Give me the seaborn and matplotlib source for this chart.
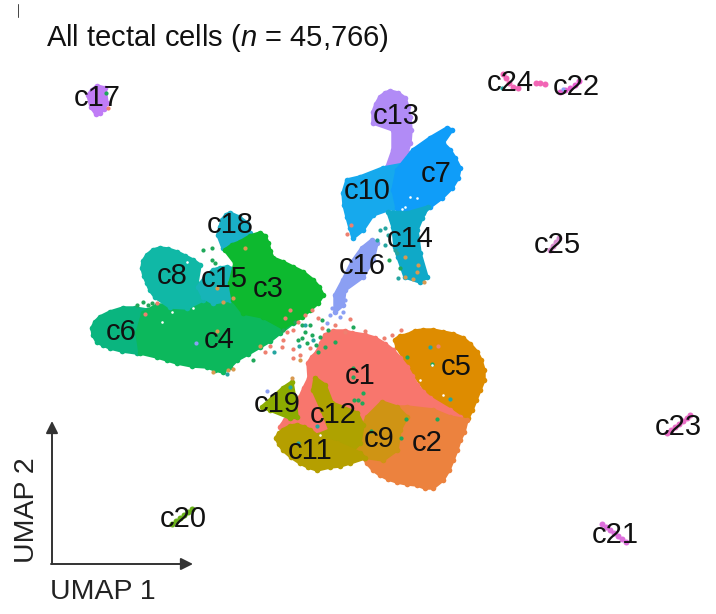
import matplotlib
matplotlib.use("Agg")
import numpy as np
import matplotlib.pyplot as plt
import seaborn as sns

# outlines of the big clouds
c5_x = [395, 400, 407, 415, 423, 433, 443, 453, 463, 470, 477, 481, 484, 484, 480, 476, 472, 468, 463, 450, 430, 413, 397]
c5_y = [340, 336, 335, 331, 330, 330, 332, 334, 338, 344, 352, 360, 370, 380, 390, 400, 410, 418, 425, 417, 397, 373, 347]

c1_x = [308, 312, 317, 321, 325, 333, 345, 352, 365, 375, 385, 393, 400, 407, 412, 417, 423, 430, 450, 460, 430, 407, 383, 363, 320, 300, 280, 285, 290, 300, 304, 309]
c1_y = [363, 357, 352, 343, 335, 331, 331, 333, 335, 338, 344, 350, 358, 367, 376, 385, 392, 398, 410, 417, 413, 417, 420, 443, 440, 425, 427, 420, 413, 397, 388, 378]

c2_x = [383, 407, 433, 450, 467, 464, 460, 457, 453, 449, 443, 433, 425, 417, 407, 397, 388, 380, 373, 367, 360, 363]
c2_y = [407, 407, 410, 417, 420, 432, 440, 450, 460, 470, 480, 488, 488, 485, 484, 482, 479, 475, 470, 463, 453, 437]

c9_x = [382, 397, 407, 400, 397, 383, 363, 357, 360, 367]
c9_y = [402, 407, 417, 430, 450, 460, 457, 450, 433, 417]

c12_x = [315, 325, 332, 357, 363, 360, 350, 337, 318, 330, 322, 313]
c12_y = [378, 385, 403, 413, 425, 443, 453, 443, 435, 430, 410, 390]

c11_x = [276, 279, 283, 290, 297, 304, 310, 320, 337, 360, 365, 350, 340, 330, 317, 308, 300, 291, 283, 279]
c11_y = [438, 433, 430, 426, 425, 427, 430, 438, 443, 453, 458, 463, 466, 467, 470, 467, 463, 457, 450, 444]

c19_x = [262, 272, 283, 292, 295, 297, 290, 270]
c19_y = [407, 398, 388, 382, 400, 417, 418, 410]

c6_x = [92, 95, 100, 110, 123, 135, 147, 163, 153, 137, 122, 110, 103, 97, 93]
c6_y = [328, 322, 317, 312, 308, 308, 310, 323, 350, 353, 351, 348, 345, 342, 335]

c4_x = [143, 157, 180, 213, 237, 267, 293, 280, 270, 260, 248, 237, 230, 223, 215, 207, 192, 177, 167, 157, 140, 137]
c4_y = [313, 305, 305, 300, 293, 317, 323, 333, 341, 347, 354, 360, 367, 372, 370, 367, 366, 363, 360, 357, 353, 333]

c8_x = [142, 143, 147, 153, 160, 168, 177, 185, 193, 200, 197, 203, 187, 170, 155, 150, 147, 144]
c8_y = [268, 261, 255, 250, 248, 249, 252, 256, 260, 265, 283, 300, 308, 307, 297, 290, 283, 276]

c15_x = [198, 205, 213, 220, 227, 237, 237, 230, 213, 203]
c15_y = [287, 277, 270, 268, 267, 270, 290, 300, 303, 297]

c18_x = [218, 220, 222, 226, 230, 239, 247, 250, 237, 223]
c18_y = [235, 227, 220, 215, 213, 217, 223, 233, 242, 248]

c3_x = [225, 232, 240, 250, 260, 265, 268, 270, 273, 283, 293, 303, 313, 319, 323, 318, 310, 302, 293, 283, 263, 243, 233, 230, 235]
c3_y = [250, 245, 242, 236, 233, 236, 243, 251, 258, 262, 267, 272, 280, 287, 295, 303, 310, 317, 322, 328, 317, 313, 300, 283, 263]

c13_x = [373, 376, 380, 385, 390, 398, 405, 408, 410, 411, 410, 407, 402, 395, 387, 393, 393, 373]
c13_y = [112, 104, 97, 93, 91, 93, 98, 107, 117, 130, 143, 152, 160, 165, 167, 150, 130, 123]

c10_x = [347, 360, 383, 410, 417, 393, 373, 363, 353, 350, 347, 344, 343]
c10_y = [180, 177, 168, 163, 213, 208, 215, 230, 238, 228, 217, 205, 193]

c7_x = [397, 413, 430, 447, 452, 443, 450, 455, 460, 458, 452, 442, 430, 423, 397, 393]
c7_y = [170, 150, 138, 128, 130, 143, 150, 158, 168, 178, 188, 198, 207, 213, 208, 190]

c14_x = [388, 407, 428, 422, 417, 420, 427, 420, 405, 398, 395, 393]
c14_y = [212, 213, 207, 218, 230, 253, 277, 282, 277, 257, 247, 227]

c16_x = [372, 377, 373, 363, 345, 343, 335, 335, 343, 352, 362]
c16_y = [240, 243, 260, 277, 290, 305, 312, 295, 280, 262, 248]

c17_x = [88, 92, 97, 105, 107, 104, 100, 96, 91]
c17_y = [95, 90, 86, 88, 103, 109, 113, 114, 107]

# thin clusters
c20_x = [172, 176, 180, 184, 188, 192]
c20_y = [524, 521, 518, 515, 512, 509]
c21_x = [602, 606, 610, 614, 618, 622, 626]
c21_y = [524, 527, 530, 533, 536, 539, 542]
c22_x = [560, 565, 570, 575, 579]
c22_y = [92, 90, 88, 85, 81]
c23_x = [667, 671, 675, 679, 683, 687, 690]
c23_y = [433, 430, 427, 424, 421, 418, 415]
c24_x = [503, 506, 509, 513, 518, 536, 540, 545]
c24_y = [74, 78, 83, 87, 88, 83, 83, 84]
c25_x = [550, 553, 556, 559]
c25_y = [250, 246, 242, 238]

colors = {
    "c1": "#F8766D", "c2": "#EC823E", "c3": "#0DB92F", "c4": "#0CB85C", "c5": "#DE8C00",
    "c6": "#0AB57F", "c7": "#0F9DF9", "c8": "#10B8A6", "c9": "#CF9414", "c10": "#16A9ED",
    "c11": "#B59F00", "c12": "#AEA200", "c13": "#B18BF6", "c14": "#0FA9C8", "c15": "#17B4B8",
    "c16": "#8B9FF3", "c17": "#C07CF6", "c18": "#1AB0C8", "c19": "#8CAC00", "c20": "#6BB11B",
    "c21": "#DD70DC", "c22": "#E85FD0", "c23": "#E86CC5", "c24": "#F266B5", "c25": "#D88CCF",
}

clouds = [
    ("c5", c5_x, c5_y), ("c1", c1_x, c1_y), ("c2", c2_x, c2_y), ("c9", c9_x, c9_y),
    ("c12", c12_x, c12_y), ("c11", c11_x, c11_y), ("c19", c19_x, c19_y), ("c6", c6_x, c6_y),
    ("c4", c4_x, c4_y), ("c8", c8_x, c8_y), ("c15", c15_x, c15_y), ("c18", c18_x, c18_y),
    ("c3", c3_x, c3_y), ("c13", c13_x, c13_y), ("c10", c10_x, c10_y), ("c7", c7_x, c7_y),
    ("c14", c14_x, c14_y), ("c16", c16_x, c16_y), ("c17", c17_x, c17_y),
]
stripes = [
    ("c20", c20_x, c20_y), ("c21", c21_x, c21_y), ("c22", c22_x, c22_y),
    ("c23", c23_x, c23_y), ("c24", c24_x, c24_y), ("c25", c25_x, c25_y),
]

# stray cells
green_x = [203, 212, 212, 215, 137, 143, 148, 152, 253, 302, 318, 325, 310, 302, 353, 320, 307,
           353, 353, 363, 354, 362, 358, 432, 407, 406, 437, 401, 371, 389, 400, 106, 283, 295,
           312, 328, 335, 305, 298, 316, 322]
green_y = [250, 248, 260, 263, 305, 302, 305, 303, 360, 338, 352, 347, 325, 325, 327, 337, 343,
           368, 377, 393, 400, 403, 400, 364, 357, 419, 419, 438, 431, 260, 268, 93, 330, 322,
           335, 330, 342, 332, 340, 345, 320]
salmon_x = [157, 145, 283, 282, 293, 293, 300, 265, 350, 365, 345, 293, 287, 438, 392, 384, 401,
            351, 347, 108, 305, 318, 270, 285, 298, 312, 310, 335, 322, 290]
salmon_y = [303, 314, 340, 347, 349, 358, 355, 352, 319, 331, 332, 330, 332, 346, 335, 338, 330,
            225, 234, 108, 315, 318, 346, 318, 322, 310, 348, 325, 328, 310]
orange_x = [245, 217, 233, 223, 217, 213, 233, 228, 260, 405, 413, 424, 418, 405, 417, 300, 292]
orange_y = [248, 288, 298, 302, 331, 372, 369, 370, 346, 277, 279, 282, 265, 257, 272, 360, 378]
teal_x = [227, 274, 299, 430, 450, 317, 298, 290, 397, 398, 380, 385, 377, 385, 395, 388, 502, 305, 313]
teal_y = [374, 352, 346, 347, 399, 426, 443, 387, 253, 278, 230, 228, 240, 245, 250, 235, 88, 325, 340]
peri_x = [196, 330, 340, 343, 327, 267, 337, 332, 345, 563]
peri_y = [343, 315, 317, 312, 323, 391, 300, 308, 300, 89]
gap_x = [410, 417, 405, 402, 432, 420, 443, 320, 193, 162, 187, 172]
gap_y = [197, 198, 207, 209, 365, 380, 395, 435, 308, 322, 262, 312]

label_names = ["c17", "c24", "c22", "c13", "c7", "c10", "c18", "c14", "c16", "c25", "c8", "c15", "c3",
               "c6", "c4", "c1", "c5", "c19", "c12", "c9", "c2", "c11", "c20", "c23", "c21"]
label_x = [97, 510, 576, 396, 436, 367, 230, 410, 362, 557, 172, 224, 268,
           121, 219, 360, 456, 277, 333, 379, 427, 310, 183, 678, 615]
label_y = [98, 83, 87, 116, 174, 191, 225, 239, 266, 245, 276, 279, 289,
           332, 340, 376, 367, 404, 415, 439, 443, 451, 519, 427, 535]

sns.set_theme(style="white")
plt.rcParams["font.family"] = ["Liberation Sans", "DejaVu Sans"]
plt.rcParams["mathtext.fontset"] = "custom"
plt.rcParams["mathtext.it"] = "Liberation Sans:italic"

fig = plt.figure(figsize=(7.16, 6.14), dpi=100)
ax = fig.add_axes([0, 0, 1, 1])


def marker_size(r):
    # radius in pixels -> scatter area in points^2
    return (2 * r * 72 / 100) ** 2


for name, xs, ys in clouds:
    ax.fill(xs, ys, color=colors[name], lw=2.5, joinstyle="round")
    sns.scatterplot(x=xs, y=ys, s=marker_size(2.8), color=colors[name], linewidth=0, ax=ax, legend=False)

for name, xs, ys in stripes:
    sns.scatterplot(x=xs, y=ys, s=marker_size(3), color=colors[name], linewidth=0, ax=ax, legend=False)

for xs, ys, col in [(green_x, green_y, "#1FA85A"), (salmon_x, salmon_y, "#EE8070"),
                    (orange_x, orange_y, "#D89A50"), (teal_x, teal_y, "#25A5A0"),
                    (peri_x, peri_y, "#8B9FF3")]:
    sns.scatterplot(x=xs, y=ys, s=marker_size(2.1), color=col, linewidth=0, ax=ax, legend=False)
sns.scatterplot(x=gap_x, y=gap_y, s=marker_size(1.3), color="white", linewidth=0, ax=ax, legend=False)

ax.set_xlim(0, 716)
ax.set_ylim(614, 0)
ax.axis("off")

for name, x, y in zip(label_names, label_x, label_y):
    ax.text(x, y, name, fontsize=21, color="#111111", ha="center", va="center")

ax.text(46, 38, "All tectal cells ($\\mathit{n}$ = 45,766)", fontsize=21, color="#111111", ha="left", va="center")
ax.text(103, 592, "UMAP 1", fontsize=20.5, color="#222222", ha="center", va="center")
ax.text(27, 510, "UMAP 2", fontsize=20.5, color="#222222", ha="center", va="center", rotation=90)

# arrows for the embedding axes
arrow = dict(arrowstyle="-|>", color="#333333", lw=1.4, mutation_scale=18, shrinkA=0, shrinkB=0)
ax.annotate("", xy=(52, 421), xytext=(52, 564), arrowprops=arrow)
ax.annotate("", xy=(193, 564), xytext=(51, 564), arrowprops=arrow)
ax.plot([18, 18], [4, 17], color="#444444", lw=0.7)

fig.savefig("out.png", dpi=100)
